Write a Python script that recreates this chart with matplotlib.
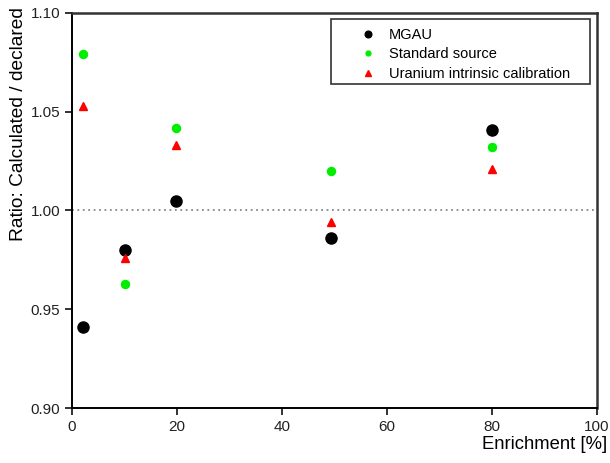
import matplotlib.pyplot as plt
from matplotlib.patches import Rectangle
from matplotlib.ticker import FormatStrFormatter

plt.rcParams['font.family'] = ['Liberation Sans', 'DejaVu Sans']

# enrichment values of the samples [%]
enrichment = [2, 10, 19.8, 49.3, 80]

# ratio calculated / declared
mgau = [0.941, 0.980, 1.005, 0.986, 1.041]
standard_source = [1.079, 0.963, 1.042, 1.020, 1.032]
uranium_intrinsic = [1.053, 0.976, 1.033, 0.994, 1.021]

x_ticks = [0, 20, 40, 60, 80, 100]
y_ticks = [0.90, 0.95, 1.00, 1.05, 1.10]

fig = plt.figure(figsize=(6.1, 4.63), dpi=100)
ax = fig.add_axes([72 / 610, 1 - 408 / 463, 525 / 610, 395 / 463])

# reference line at ratio = 1
ax.axhline(1.0, color='#888888', linestyle=(0, (1, 2)), linewidth=1.3, zorder=1)

ax.plot(enrichment, mgau, 'o', color='black', markersize=8, label='MGAU', zorder=3)
ax.plot(enrichment, standard_source, 'o', color='#00ee00', markersize=5.8,
        label='Standard source', zorder=3)
ax.plot(enrichment, uranium_intrinsic, '^', color='red', markersize=6.3,
        label='Uranium intrinsic calibration', zorder=3)

ax.set_xlim(0, 100)
ax.set_ylim(0.90, 1.10)
ax.set_xticks(x_ticks)
ax.set_yticks(y_ticks)
ax.yaxis.set_major_formatter(FormatStrFormatter('%.2f'))
ax.tick_params(direction='out', length=5, width=1.3, labelsize=11, colors='#222222')

for side in ['left', 'bottom']:
    ax.spines[side].set_linewidth(1.4)
for side in ['top', 'right']:
    ax.spines[side].set_linewidth(1.8)
    ax.spines[side].set_color('#333333')

ax.set_xlabel('Enrichment [%]', fontsize=13.3, ha='right')
ax.xaxis.set_label_coords(1.02, -0.07)
ax.set_ylabel('Ratio: Calculated / declared', fontsize=13.8, ha='right')
ax.yaxis.set_label_coords(-0.085, 1.015)

# legend without its own frame; box drawn separately (wider left/right padding)
leg = ax.legend(loc='upper left', bbox_to_anchor=(0.549, 0.963), fontsize=10.5,
                frameon=False, borderpad=0, borderaxespad=0, handlelength=1.0,
                handletextpad=0.95, labelspacing=0.38, markerscale=0.6)
ax.add_patch(Rectangle((0.493, 0.820), 0.494, 0.164, transform=ax.transAxes,
                       fill=False, edgecolor='#333333', linewidth=1.2, zorder=4))

fig.savefig('out.png', dpi=100)
